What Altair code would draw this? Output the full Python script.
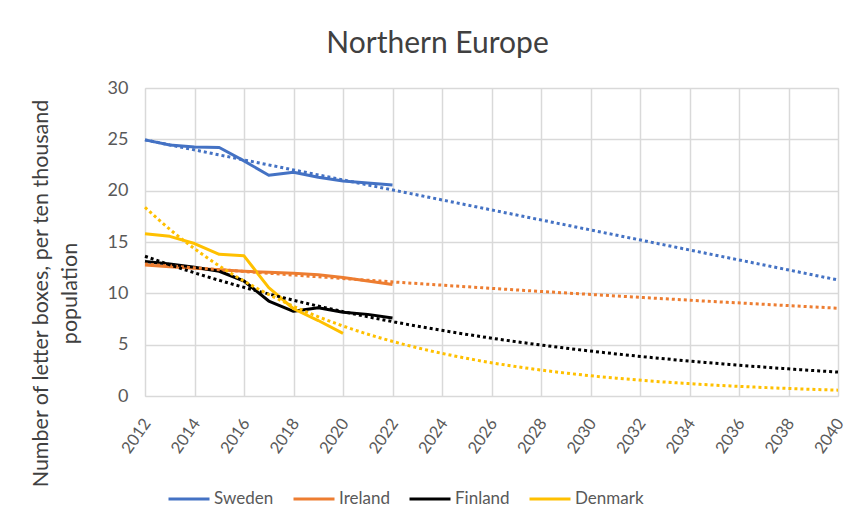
import altair as alt
import pandas as pd

# ---- data ----
years = [2012, 2013, 2014, 2015, 2016, 2017, 2018, 2019, 2020, 2021, 2022]
sweden = [24.95, 24.45, 24.25, 24.2, 22.9, 21.5, 21.8, 21.3, 20.95, 20.75, 20.55]
ireland = [12.75, 12.6, 12.45, 12.3, 12.15, 12.05, 11.95, 11.8, 11.55, 11.2, 10.85]
finland = [13.1, 12.85, 12.55, 12.15, 11.2, 9.25, 8.25, 8.6, 8.15, 7.95, 7.6]
denmark = [15.8, 15.55, 14.85, 13.8, 13.65, 10.55, 8.5, 7.35, 6.1]  # 2012-2020

countries = ["Sweden", "Ireland", "Finland", "Denmark"]
colors = ["#4472C4", "#ED7D31", "#000000", "#FFC000"]
x_ticks = [2012, 2014, 2016, 2018, 2020, 2022, 2024, 2026, 2028, 2030,
           2032, 2034, 2036, 2038, 2040]
y_ticks = [0, 5, 10, 15, 20, 25, 30]
trend_extent = [2012, 2040]

rows = []
for name, vals in zip(countries, [sweden, ireland, finland, denmark]):
    for yr, v in zip(years, vals):
        rows.append({"country": name, "year": yr, "value": v})
df = pd.DataFrame(rows)

FONT = "Lato"

color = alt.Color(
    "country:N",
    scale=alt.Scale(domain=countries, range=colors),
    legend=alt.Legend(
        title=None,
        orient="none",
        direction="horizontal",
        legendX=22,
        legendY=389,
        symbolType="stroke",
        symbolSize=1681,
        symbolStrokeWidth=3,
        labelFont=FONT,
        labelFontSize=17,
        labelColor="#595959",
        labelOffset=3,
        labelLimit=200,
        columnPadding=13,
        padding=0,
    ),
)

x_enc = alt.X(
    "year:Q",
    scale=alt.Scale(domain=trend_extent, nice=False, zero=False),
    axis=alt.Axis(
        values=x_ticks,
        format="d",
        title=None,
        labelAngle=-55,
        labelAlign="right",
        labelBaseline="middle",
        labelPadding=24,
        labelOffset=2,
        labelFont=FONT,
        labelFontSize=16.5,
        labelColor="#595959",
        labelFlush=False,
        labelOverlap=False,
        ticks=False,
        tickSize=0,
        domain=False,
        grid=True,
        gridColor="#d9d9d9",
        gridWidth=1.5,
    ),
)

y_enc = alt.Y(
    "value:Q",
    scale=alt.Scale(domain=[0, 30], nice=False),
    axis=alt.Axis(
        values=y_ticks,
        title=["Number of letter boxes, per ten thousand", "population"],
        titleFont=FONT,
        titleFontSize=21.5,
        titleFontWeight="normal",
        titleColor="#404040",
        titleLineHeight=29,
        titleAngle=-90,
        titleAlign="center",
        titleBaseline="alphabetic",
        titleX=-98,
        titleY=205,
        labelFont=FONT,
        labelFontSize=18,
        labelColor="#595959",
        labelPadding=17,
        ticks=False,
        tickSize=0,
        domain=False,
        grid=True,
        gridColor="#d9d9d9",
        gridWidth=1.5,
    ),
)

base = alt.Chart(df)

lines = base.mark_line(strokeWidth=3, strokeJoin="round").encode(
    x=x_enc, y=y_enc, color=color
)

trend_lin = (
    base.transform_filter(alt.datum.country == "Sweden")
    .transform_regression("year", "value", groupby=["country"],
                          method="linear", extent=trend_extent)
    .mark_line(strokeWidth=3, strokeDash=[3, 3])
    .encode(x=x_enc, y=y_enc, color=color)
)

trend_exp = (
    base.transform_filter(alt.datum.country != "Sweden")
    .transform_calculate(lnv="log(datum.value)")
    .transform_regression("year", "lnv", groupby=["country"],
                          method="poly", order=1, extent=trend_extent)
    .transform_calculate(value="exp(datum.lnv)")
    .mark_line(strokeWidth=3, strokeDash=[3, 3], interpolate="monotone")
    .encode(x=x_enc, y=y_enc, color=color)
)

chart = (
    alt.layer(lines, trend_lin, trend_exp)
    .properties(
        width=693,
        height=308,
        autosize=alt.AutoSizeParams(type="none"),
        padding={"left": 137, "top": 80, "right": 10, "bottom": 120},
        title=alt.TitleParams(
            "Northern Europe",
            font=FONT,
            fontSize=30,
            fontWeight="normal",
            color="#404040",
            anchor="middle",
            dx=-54,
            offset=20,
        ),
    )
    .configure_view(stroke=None)
    .configure(background="white")
)

chart.save("out.html", embed_options={"renderer": "svg", "actions": False})
